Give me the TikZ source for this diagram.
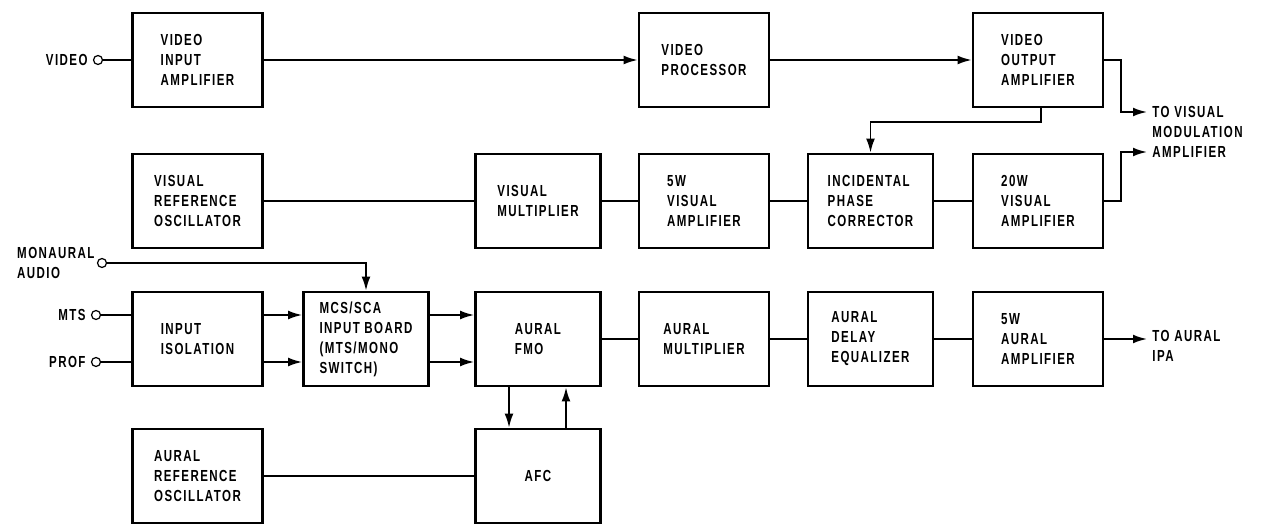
\documentclass[tikz,border=0pt]{standalone}
\usepackage{fontspec}
\newfontfamily\blockfont{Liberation Sans}[FakeStretch=0.72,LetterSpace=9]
\usetikzlibrary{arrows.meta,positioning,calc}

\begin{document}
\begin{tikzpicture}[
    x=0.5pt, y=-0.5pt,
    blk/.style={draw, line width=1.3pt, minimum height=47pt, align=left, inner sep=0pt, font=\blockfont\bfseries\fontsize{8}{10}\selectfont},
    wide/.style={blk, minimum width=65pt},
    narrow/.style={blk, minimum width=62.5pt},
    term/.style={circle, draw, line width=0.6pt, minimum size=4.5pt, inner sep=0pt},
    lbl/.style={align=left, inner sep=1pt, font=\blockfont\bfseries\fontsize{8}{10}\selectfont},
    wire/.style={line width=0.9pt},
    sig/.style={wire, -{Latex[length=7pt,width=4.4pt]}}
  ]
  \useasboundingbox (0,0) rectangle (1264,524);

  % video chain
  \node[wide] (via) at (197.5,60) {VIDEO\\INPUT\\AMPLIFIER};
  \node[wide] (vp) at (704,60) {VIDEO\\PROCESSOR};
  \node[wide] (voa) at (1038,60) {VIDEO\\OUTPUT\\AMPLIFIER};

  % visual chain
  \node[wide] (vro) at (197.5,201) {VISUAL\\REFERENCE\\OSCILLATOR};
  \node[narrow] (vm) at (538,201) {VISUAL\\MULTIPLIER};
  \node[wide] (va5) at (704,201) {5W\\VISUAL\\AMPLIFIER};
  \node[narrow] (ipc) at (870.5,201) {INCIDENTAL\\PHASE\\CORRECTOR};
  \node[wide] (va20) at (1038,201) {20W\\VISUAL\\AMPLIFIER};

  % aural chain
  \node[wide] (iso) at (197.5,339) {INPUT\\ISOLATION};
  \node[narrow] (mcs) at (366,339) {MCS/SCA\\INPUT BOARD\\(MTS/MONO\\SWITCH)};
  \node[narrow] (fmo) at (538,339) {AURAL\\FMO};
  \node[wide] (amul) at (704,339) {AURAL\\MULTIPLIER};
  \node[narrow] (ade) at (870.5,339) {AURAL\\DELAY\\EQUALIZER};
  \node[wide] (aa5) at (1038,339) {5W\\AURAL\\AMPLIFIER};

  \node[wide] (aro) at (197.5,476) {AURAL\\REFERENCE\\OSCILLATOR};
  \node[narrow] (afc) at (538,476) {AFC};

  % inputs
  \node[term] (vidin) at (98,60) {};
  \node[lbl, left=1.5pt of vidin] (vidlbl) {VIDEO};
  \node[term] (monin) at (102,263) {};
  \node[lbl, left=0pt of monin] (monlbl) {MONAURAL\\AUDIO};
  \node[term] (mtsin) at (96,315) {};
  \node[lbl, left=1.5pt of mtsin] (mtslbl) {MTS};
  \node[term] (profin) at (96,362) {};
  \node[lbl, left=1.5pt of profin] (proflbl) {PROF};

  % outputs
  \coordinate (vmod) at (1147,112);
  \coordinate (vmod2) at (1147,152);
  \coordinate (aipa) at (1147,339);
  \node[lbl, anchor=west] (tovis) at (1150,132) {TO VISUAL\\MODULATION\\AMPLIFIER};
  \node[lbl, anchor=west] (toaur) at (1150,346) {TO AURAL\\IPA};

  % video connections
  \draw[wire] (vidin) -- (via);
  \draw[sig] (via) -- (vp);
  \draw[sig] (vp) -- (voa);
  \draw[sig] (voa.east) -- ++(17,0) |- (vmod);
  \draw[sig] ([xshift=1.5pt]voa.south) -- ++(0,14) -| (ipc.north);

  % visual connections
  \draw[wire] (vro) -- (vm);
  \draw[wire] (vm) -- (va5);
  \draw[wire] (va5) -- (ipc);
  \draw[wire] (ipc) -- (va20);
  \draw[sig] (va20.east) -- ++(17,0) |- (vmod2);

  % aural connections
  \draw[sig] (monin) -| (mcs.north);
  \draw[wire] (mtsin) -- (mtsin -| iso.west);
  \draw[wire] (profin) -- (profin -| iso.west);
  \draw[sig] (iso.east |- mtsin) -- (mcs.west |- mtsin);
  \draw[sig] (iso.east |- profin) -- (mcs.west |- profin);
  \draw[sig] (mcs.east |- mtsin) -- (fmo.west |- mtsin);
  \draw[sig] (mcs.east |- profin) -- (fmo.west |- profin);
  \draw[wire] (fmo) -- (amul);
  \draw[wire] (amul) -- (ade);
  \draw[wire] (ade) -- (aa5);
  \draw[sig] (aa5) -- (aipa);
  \draw[sig] ([xshift=-14.5pt]fmo.south) -- ([xshift=-14.5pt]afc.north);
  \draw[sig] ([xshift=14pt]afc.north) -- ([xshift=14pt]fmo.south);
  \draw[wire] (aro) -- (afc);
\end{tikzpicture}
\end{document}
